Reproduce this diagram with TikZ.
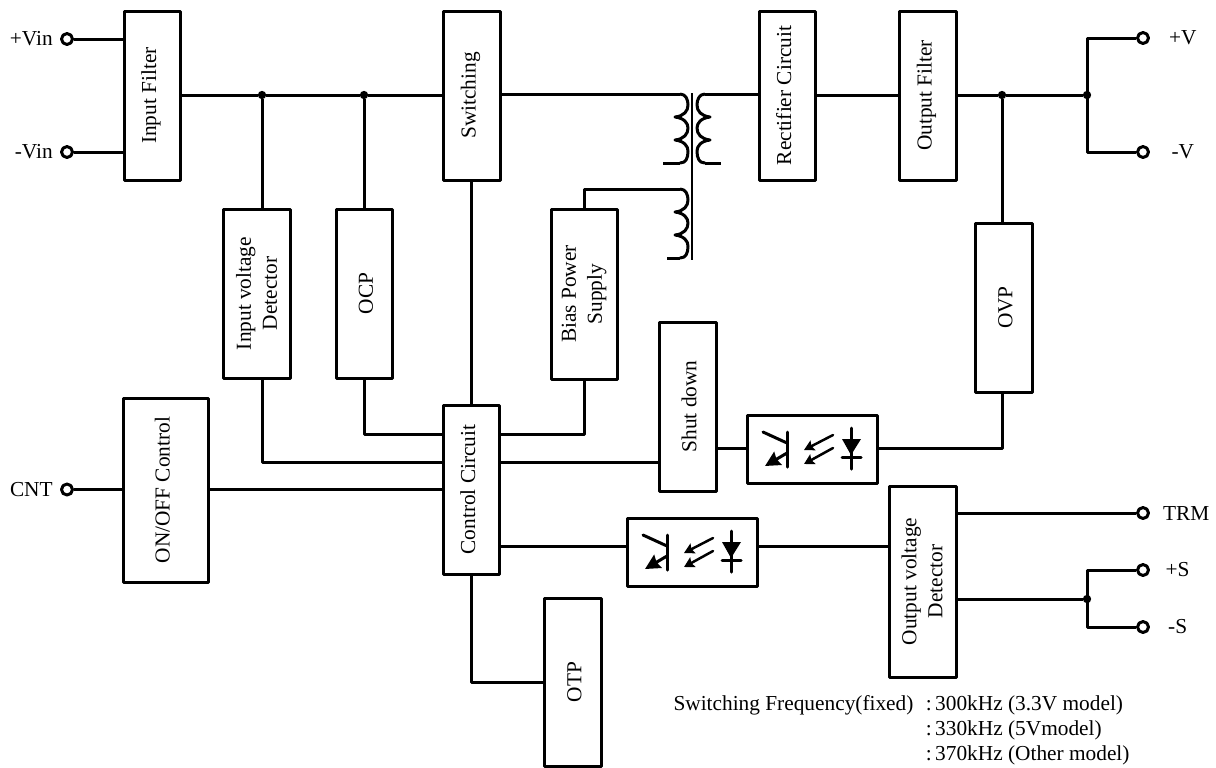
\documentclass[tikz,border=0pt]{standalone}
\usepackage{fontspec}
\usepackage{graphicx}
\setmainfont{Liberation Serif}
\usetikzlibrary{positioning}
\usetikzlibrary{arrows.meta}
\newcommand{\vtxt}[2][-5.2pt]{\rotatebox{90}{\raisebox{#1}[0pt][0pt]{\begin{tabular}{@{}c@{}}#2\end{tabular}}}}
\tikzset{blk/.style 2 args={draw, align=center, inner sep=0pt,
minimum width=#1*0.6pt, minimum height=#2*0.6pt},
term/.style={circle, draw, fill=white, inner sep=0pt, minimum size=6.6pt},
termlbl/.style={inner sep=0pt, node distance=3.5pt},
dot/.style={circle, fill=black, inner sep=0pt, outer sep=0pt, minimum size=5pt},
coil/.pic={
	\coordinate (-in) at (0,0);
	\coordinate (-out) at (0,69);
	\draw (0,0) .. controls (6,0) and (8,6) .. (8,11) .. controls (8,17) and (4,22) .. (-5,23)
		.. controls (4,24) and (8,29) .. (8,34) .. controls (8,40) and (4,45) .. (-5,46)
		.. controls (4,47) and (8,52) .. (8,57) .. controls (8,64) and (6,69) .. (0,69);
},
opto/.pic={
	\begin{scope}[line cap=round]
	\draw (-25,-17) -- (-25,18);
	\draw (-49,-17) -- (-25,-6);
	\draw[-{Stealth[length=9pt,width=9pt,inset=1pt]}] (-25,4) -- (-47,17);
	\draw[line width=1.5pt, -{Stealth[length=6pt,width=6.5pt,inset=1pt]}] (21,-14) -- (-8,1);
	\draw[line width=1.5pt, -{Stealth[length=6pt,width=6.5pt,inset=1pt]}] (21,-1) -- (-8,15);
	\draw (39,-21) -- (39,20);
	\fill (30,-10) -- (49,-10) -- (39,6) -- cycle;
	\draw (30,8) -- (49,8);
	\end{scope}
}}
\begin{document}
\begin{tikzpicture}[x=0.6pt, y=-0.6pt, line width=1.8pt, line join=round,
		every node/.style={font=\fontsize{12.8}{15.5}\selectfont}]
	\useasboundingbox (0,0) rectangle (1216,767);
	\node[blk={56}{169}] (infilter) at (152,95.5) {\vtxt[-2.4pt]{Input Filter}};
	\node[blk={57}{169}] (switching) at (471.5,95.5) {\vtxt[-2.4pt]{Switching}};
	\node[blk={56}{169}] (rectifier) at (787,95.5) {\vtxt[-2.4pt]{Rectifier Circuit}};
	\node[blk={57}{169}] (outfilter) at (927.5,95.5) {\vtxt[-2.4pt]{Output Filter}};
	\node[blk={67}{169}] (indetector) at (257,293.5) {\vtxt[-4pt]{Input voltage\\Detector}};
	\node[blk={56}{169}] (ocp) at (364,293.5) {\vtxt{OCP}};
	\node[blk={66}{170}] (bias) at (584,294) {\vtxt[-2.8pt]{Bias Power\\Supply}};
	\node[blk={57}{169}] (shutdown) at (687.5,406.5) {\vtxt{Shut down}};
	\node[blk={57}{169}] (ovp) at (1003.5,307.5) {\vtxt{OVP}};
	\node[blk={85}{184}] (onoff) at (165.5,490) {\vtxt[-2.4pt]{ON/OFF Control}};
	\node[blk={56}{169}] (control) at (471,489.5) {\vtxt[-2.4pt]{Control Circuit}};
	\node[blk={67}{191}] (outdetector) at (922.5,581.5) {\vtxt[-4pt]{Output voltage\\Detector}};
	\node[blk={57}{168}] (otp) at (572.5,682) {\vtxt{OTP}};
	\node[blk={130}{68}] (optoa) at (812,449) {};
	\node[blk={130}{68}] (optob) at (692,552) {};
	\pic at (optoa.center) {opto};
	\pic at (optob.center) {opto};

	% terminals
	\node[term] (vinp) at (67,39) {};
	\node[term] (vinn) at (67,152) {};
	\node[term] (cnt) at (67,489.5) {};
	\node[term] (vp) at (1143,38) {};
	\node[term] (vn) at (1143,152) {};
	\node[term] (trm) at (1143,513) {};
	\node[term] (sp) at (1143,570) {};
	\node[term] (sn) at (1143,627) {};
	\node[termlbl, left=of vinp] (vinplbl) {+Vin};
	\node[termlbl, left=of vinn] (vinnlbl) {-Vin};
	\node[termlbl, left=of cnt] (cntlbl) {CNT};
	\node[termlbl, right=10.5pt of vp] (vplbl) {+V};
	\node[termlbl, right=12pt of vn] (vnlbl) {-V};
	\node[termlbl, right=7pt of trm] (trmlbl) {TRM};
	\node[termlbl, right=8.5pt of sp] (splbl) {+S};
	\node[termlbl, right=10pt of sn] (snlbl) {-S};

	% junctions
	\node[dot] (ja) at (262,95) {};
	\node[dot] (jb) at (364,95) {};
	\node[dot] (jc) at (1002,95) {};
	\node[dot] (jd) at (1087,95) {};
	\node[dot] (je) at (1087,599) {};

	% transformer
	\pic (prim) at (680,94) {coil};
	\pic[xscale=-1] (sec) at (705,94) {coil};
	\pic (aux) at (680,189) {coil};
	\coordinate (primtail) at (663,163);
	\coordinate (sectail) at (721,163);
	\coordinate (auxtail) at (667,258);
	\coordinate (coretop) at (692,93);
	\coordinate (corebot) at (692,260);
	\draw[line width=1.3pt] (coretop) -- (corebot);
	\draw (prim-out) -- (primtail);
	\draw (sec-out) -- (sectail);
	\draw (aux-out) -- (auxtail);

	% wires
	\draw (vinp) -- (vinp -| infilter.west);
	\draw (vinn) -- (vinn -| infilter.west);
	\draw (ja -| infilter.east) -- (ja) -- (jb) -- (jb -| switching.west);
	\draw (ja) -- (ja |- indetector.north);
	\draw (jb) -- (jb |- ocp.north);
	\draw (switching.south) -- (control.north -| switching.south);
	\draw (prim-in -| switching.east) -- (prim-in);
	\draw (sec-in) -- (sec-in -| rectifier.west);
	\draw (rectifier.east |- jc) -- (outfilter.west |- jc);
	\draw (outfilter.east |- jc) -- (jc) -- (jd);
	\draw (jc) -- (jc |- ovp.north);
	\draw (vp) -- (vp -| jd) -- (vn -| jd) -- (vn);
	\draw (aux-in) -- (aux-in -| bias.north) -- (bias.north);
	\draw (bias.south) |- (control.east |- 0,434);
	\draw (ocp.south) |- (control.west |- 0,434);
	\draw (indetector.south -| ja) |- (control.west |- 0,462);
	\draw (cnt) -- (cnt -| onoff.west);
	\draw (cnt -| onoff.east) -- (cnt -| control.west);
	\draw (control.east |- 0,462) -- (shutdown.west |- 0,462);
	\draw (shutdown.east |- 0,448) -- (optoa.west |- 0,448);
	\draw (optoa.east |- 0,448) -| (ovp.south -| jc);
	\draw (control.east |- 0,546) -- (optob.west |- 0,546);
	\draw (optob.east |- 0,546) -- (outdetector.west |- 0,546);
	\draw (outdetector.east |- trm) -- (trm);
	\draw (outdetector.east |- je) -- (je);
	\draw (sp) -- (sp -| je) -- (sn -| je) -- (sn);
	\draw (control.south) |- (otp.west);

	\node[anchor=north west, inner sep=0pt, font=\fontsize{12.8}{15}\selectfont] (freq) at (672,691.5) {\begin{tabular}{@{}l@{\hspace{7.5pt}}l@{}}
		Switching Frequency(fixed) & :\kern2pt 300kHz (3.3V model)\\
		& :\kern2pt 330kHz (5Vmodel)\\
		& :\kern2pt 370kHz (Other model)
	\end{tabular}};
\end{tikzpicture}
\end{document}
